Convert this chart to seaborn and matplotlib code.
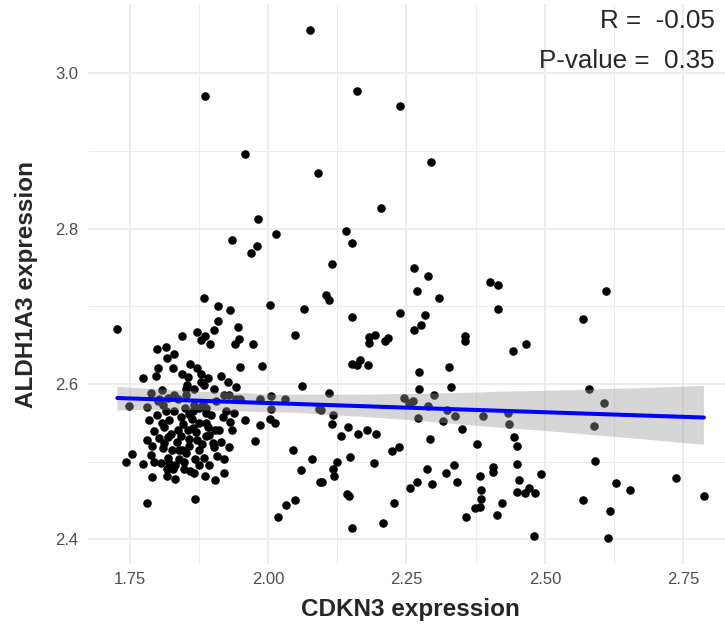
import matplotlib
matplotlib.use("Agg")
import matplotlib.pyplot as plt
from matplotlib.ticker import MultipleLocator, FormatStrFormatter
import pandas as pd
import seaborn as sns


# -----------------------
# Data
# -----------------------
cdkn3 = [
    # upper part
    2.076, 1.886, 2.161, 2.238, 1.958, 2.091, 2.204, 1.982, 1.935, 2.014,
    1.981, 1.970, 2.140, 2.151, 2.115, 2.263, 2.269, 2.104, 2.111, 1.885,
    1.910, 1.932, 2.003, 2.065, 2.151, 2.238, 1.910, 2.295, 2.288, 2.308,
    2.400, 2.415, 2.416, 2.610, 2.283, 2.569,
    # left cluster
    1.728, 1.945, 1.871, 1.902, 1.887, 1.879, 1.896, 1.844, 1.947, 1.940,
    1.973, 2.049, 1.799, 1.816, 1.831, 1.817, 1.801, 1.828, 1.950, 1.989,
    1.775, 1.798, 1.845, 1.860, 1.871, 1.855, 1.879, 1.891, 1.884, 1.916,
    1.927, 1.942, 2.062, 1.789, 1.809, 1.852, 1.867, 1.819, 1.801, 1.782,
    1.749, 1.906, 1.943, 1.949, 1.985, 2.005, 2.030, 2.005, 1.939, 1.850,
    1.831, 1.816, 1.876, 1.888, 2.092, 1.918, 1.932, 1.985, 2.003, 2.012,
    1.977, 1.930, 2.046, 2.079, 2.059, 2.093, 2.018, 2.032, 2.048, 1.868,
    1.781, 1.754, 1.744, 1.774, 1.790, 1.818, 1.867, 1.887, 1.905, 1.920,
    1.908, 1.893, 1.900, 1.902,
    # dense core
    1.810, 1.808, 1.822, 1.795, 1.781, 1.819, 1.846, 1.864, 1.876, 1.843,
    1.858, 1.871, 1.888, 1.810, 1.813, 1.840, 1.858, 1.876, 1.789, 1.795,
    1.807, 1.822, 1.840, 1.852, 1.869, 1.884, 1.817, 1.828, 1.853, 1.879,
    1.804, 1.837, 1.852, 1.888, 1.888, 1.831, 1.903, 1.921, 1.858, 1.837,
    1.912, 1.921, 1.833, 1.849, 1.894, 1.786, 1.826, 1.867, 1.958, 1.930,
    1.800, 1.812, 1.825, 1.835, 1.845, 1.855, 1.862, 1.870, 1.880, 1.892,
    1.898, 1.905, 1.915, 1.925, 1.935, 1.820, 1.832, 1.848, 1.860, 1.875,
    1.803, 1.790, 1.843, 1.882, 1.865,
    # middle
    2.277, 2.264, 2.183, 2.194, 2.183, 2.212, 2.216, 2.356, 2.356, 2.443,
    2.465, 2.151, 2.167, 2.160, 2.181, 2.272, 2.326, 2.111, 2.331, 2.273,
    2.299, 2.245, 2.261, 2.255, 2.289, 2.323, 2.337, 2.270, 2.316, 2.389,
    2.434, 2.436, 2.096, 2.117, 2.115, 2.144, 2.131, 2.162, 2.178, 2.195,
    2.351, 2.292, 2.444, 2.450, 2.378, 2.237, 2.223, 2.148, 2.125, 2.118,
    2.120, 2.191, 2.098, 2.142, 2.147, 2.227, 2.152, 2.208, 2.257, 2.269,
    2.287, 2.296, 2.322, 2.335, 2.342, 2.382, 2.385, 2.385, 2.383, 2.374,
    2.358, 2.406, 2.406, 2.423, 2.413, 2.450, 2.453, 2.449,
    # right
    2.580, 2.607, 2.589, 2.493, 2.591, 2.628, 2.653, 2.737, 2.787, 2.464,
    2.471, 2.482, 2.568, 2.618, 2.480, 2.613,
]

aldh1a3 = [
    # upper part
    3.056, 2.971, 2.977, 2.958, 2.896, 2.872, 2.827, 2.812, 2.785, 2.793,
    2.778, 2.769, 2.797, 2.782, 2.754, 2.749, 2.720, 2.714, 2.708, 2.711,
    2.700, 2.695, 2.701, 2.697, 2.686, 2.691, 2.681, 2.886, 2.739, 2.710,
    2.731, 2.727, 2.697, 2.720, 2.689, 2.684,
    # left cluster
    2.671, 2.673, 2.667, 2.669, 2.662, 2.656, 2.651, 2.662, 2.658, 2.652,
    2.651, 2.663, 2.645, 2.648, 2.639, 2.633, 2.620, 2.621, 2.622, 2.623,
    2.608, 2.610, 2.613, 2.625, 2.621, 2.609, 2.613, 2.607, 2.599, 2.610,
    2.603, 2.596, 2.597, 2.588, 2.592, 2.593, 2.593, 2.582, 2.578, 2.570,
    2.571, 2.578, 2.581, 2.580, 2.580, 2.585, 2.580, 2.568, 2.563, 2.569,
    2.565, 2.565, 2.569, 2.569, 2.568, 2.558, 2.551, 2.547, 2.555, 2.550,
    2.527, 2.519, 2.515, 2.503, 2.489, 2.474, 2.428, 2.444, 2.450, 2.452,
    2.447, 2.510, 2.500, 2.497, 2.480, 2.482, 2.485, 2.482, 2.476, 2.485,
    2.507, 2.534, 2.524, 2.519,
    # dense core
    2.573, 2.550, 2.554, 2.539, 2.528, 2.531, 2.548, 2.543, 2.550, 2.533,
    2.529, 2.528, 2.533, 2.518, 2.524, 2.515, 2.520, 2.515, 2.509, 2.500,
    2.498, 2.498, 2.503, 2.511, 2.503, 2.504, 2.490, 2.490, 2.599, 2.602,
    2.580, 2.580, 2.586, 2.550, 2.563, 2.586, 2.593, 2.586, 2.561, 2.541,
    2.541, 2.503, 2.477, 2.490, 2.496, 2.554, 2.515, 2.573, 2.554, 2.586,
    2.560, 2.545, 2.535, 2.525, 2.515, 2.540, 2.555, 2.538, 2.522, 2.545,
    2.560, 2.540, 2.525, 2.565, 2.540, 2.505, 2.495, 2.500, 2.488, 2.495,
    2.530, 2.520, 2.558, 2.575, 2.565,
    # middle
    2.676, 2.670, 2.661, 2.663, 2.653, 2.655, 2.659, 2.662, 2.655, 2.642,
    2.651, 2.626, 2.631, 2.624, 2.624, 2.615, 2.622, 2.588, 2.596, 2.593,
    2.586, 2.582, 2.578, 2.575, 2.572, 2.566, 2.559, 2.556, 2.552, 2.559,
    2.562, 2.549, 2.567, 2.560, 2.548, 2.545, 2.533, 2.536, 2.540, 2.535,
    2.542, 2.529, 2.532, 2.520, 2.523, 2.519, 2.513, 2.506, 2.499, 2.491,
    2.482, 2.498, 2.474, 2.458, 2.455, 2.446, 2.415, 2.421, 2.466, 2.474,
    2.491, 2.471, 2.485, 2.495, 2.474, 2.481, 2.464, 2.452, 2.442, 2.440,
    2.428, 2.493, 2.487, 2.446, 2.431, 2.497, 2.476, 2.461,
    # right
    2.594, 2.576, 2.546, 2.484, 2.501, 2.473, 2.464, 2.479, 2.456, 2.460,
    2.466, 2.460, 2.451, 2.436, 2.404, 2.401,
]

r_value = -0.05
p_value = 0.35

x_label = "CDKN3 expression"
y_label = "ALDH1A3 expression"


# -----------------------
# Style
# -----------------------
sns.set_style("white")
plt.rcParams["font.family"] = ["Liberation Sans", "DejaVu Sans"]

df = pd.DataFrame({"CDKN3": cdkn3, "ALDH1A3": aldh1a3})


# -----------------------
# Plot
# -----------------------
fig = plt.figure(figsize=(7.25, 6.3), dpi=100)
ax = fig.add_axes([88 / 725, 0.105, 0.890, 0.888])

sns.scatterplot(
    data=df, x="CDKN3", y="ALDH1A3",
    color="black", s=38, linewidth=0, ax=ax, zorder=3
)

sns.regplot(
    data=df, x="CDKN3", y="ALDH1A3",
    scatter=False, color="blue", seed=7, ax=ax,
    line_kws={"linewidth": 2.9, "zorder": 5}
)

# ggplot-like grey confidence band
band = ax.collections[-1]
band.set_facecolor("#999999")
band.set_edgecolor("none")
band.set_alpha(0.4)
band.set_zorder(4)

# 5% expansion like ggplot
x_pad = 0.05 * (max(cdkn3) - min(cdkn3))
y_pad = 0.05 * (max(aldh1a3) - min(aldh1a3))
ax.set_xlim(min(cdkn3) - x_pad, max(cdkn3) + x_pad)
ax.set_ylim(min(aldh1a3) - y_pad, max(aldh1a3) + y_pad)

ax.xaxis.set_major_locator(MultipleLocator(0.25))
ax.xaxis.set_minor_locator(MultipleLocator(0.125))
ax.yaxis.set_major_locator(MultipleLocator(0.2))
ax.yaxis.set_minor_locator(MultipleLocator(0.1))
ax.xaxis.set_major_formatter(FormatStrFormatter("%.2f"))
ax.yaxis.set_major_formatter(FormatStrFormatter("%.1f"))

ax.grid(which="major", color="#EBEBEB", linewidth=1.3)
ax.grid(which="minor", color="#EBEBEB", linewidth=0.65)
ax.set_axisbelow(True)

for side in ax.spines.values():
    side.set_visible(False)

ax.tick_params(which="both", length=0)
ax.tick_params(axis="x", labelsize=12, labelcolor="#4D4D4D", pad=6)
ax.tick_params(axis="y", labelsize=12, labelcolor="#4D4D4D", pad=7)

ax.set_xlabel(x_label, fontsize=17.5, fontweight="bold", labelpad=8)
ax.set_ylabel(y_label, fontsize=17.5, fontweight="bold", labelpad=12)

fig.text(715 / 725, 1 - 21 / 630, f"R =  {r_value:.2f}",
         ha="right", va="center", fontsize=18.7)
fig.text(715 / 725, 1 - 61 / 630, f"P-value =  {p_value:.2f}",
         ha="right", va="center", fontsize=18.7)

fig.savefig("out.png", dpi=100)
